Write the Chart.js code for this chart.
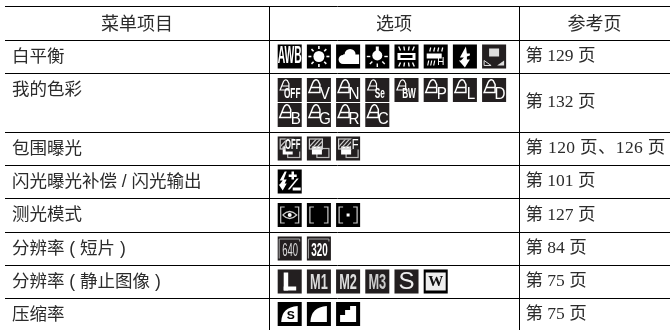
<!DOCTYPE html>
<html>
<head>
<meta charset="utf-8">
<script src="https://cdn.jsdelivr.net/npm/chart.js@4"></script>
<style>
    html, body { margin: 0; padding: 0; background: #fff; }
    #wrap { width: 670px; height: 330px; }
</style>
</head>
<body>
<div id="wrap"><canvas id="table"></canvas></div>
<script>
// table content
const headers = ['菜单项目', '选项', '参考页'];
const menuItems = ['白平衡', '我的色彩', '包围曝光', '闪光曝光补偿 / 闪光输出', '测光模式', '分辨率 ( 短片 )', '分辨率 ( 静止图像 )', '压缩率'];
const pageRefs = ['第 129 页', '第 132 页', '第 120 页、126 页', '第 101 页', '第 127 页', '第 84 页', '第 75 页', '第 75 页'];
const rowOptions = [
    ['awb', 'sun', 'cloud', 'bulb', 'tubeL', 'tubeH', 'flash', 'custom'],
    ['cOFF', 'cV', 'cN', 'cSe', 'cBW', 'cP', 'cL', 'cD', 'cB', 'cG', 'cR', 'cC'],
    ['bktOff', 'bkt', 'bktF'],
    ['flashComp'],
    ['meterEval', 'meterCenter', 'meterSpot'],
    ['mov640', 'mov320'],
    ['sizeL', 'sizeM1', 'sizeM2', 'sizeM3', 'sizeS', 'sizeW'],
    ['compS', 'compF', 'compN']
];

// table geometry, in axis units (rowEdges[0..1] is the header row)
const colEdges = [264, 514];
const rowEdges = [0, 34, 67, 126, 159, 192, 226, 259, 292];
const tableRight = 665;
const tableBottom = 324;
const slotStart = 284.7;
const slotStep = 29.2;
const slotsPerLine = 8;
const lineGap = 25;

const CJK = '"Noto Sans CJK SC"';
const inkColor = '#2b2b2b';

function rowTop(r) { return rowEdges[r + 1]; }
function rowBottom(r) { return r + 2 < rowEdges.length ? rowEdges[r + 2] : tableBottom; }

const optionPoints = [];
rowOptions.forEach((icons, r) => {
    const twoLines = icons.length > slotsPerLine;
    const mid = (rowTop(r) + rowBottom(r)) / 2;
    icons.forEach((icon, i) => {
        const line = Math.floor(i / slotsPerLine);
        const y = twoLines ? mid - lineGap / 2 + line * lineGap : mid;
        optionPoints.push({ x: slotStart + (i % slotsPerLine) * slotStep, y: y, icon: icon });
    });
});

// condensed white text inside an icon
function label(ctx, str, x, y, sx, font, color) {
    ctx.save();
    ctx.translate(x, y);
    ctx.scale(sx, 1);
    ctx.font = font;
    ctx.fillStyle = color || '#fff';
    ctx.textAlign = 'center';
    ctx.textBaseline = 'middle';
    ctx.fillText(str, 0, 0);
    ctx.restore();
}

function poly(ctx, pts, fill) {
    ctx.beginPath();
    pts.forEach((p, i) => i ? ctx.lineTo(p[0], p[1]) : ctx.moveTo(p[0], p[1]));
    ctx.closePath();
    if (fill) ctx.fill(); else ctx.stroke();
}

function rays(ctx, r0, r1, from, to, n) {
    for (let i = 0; i < n; i++) {
        const a = from + (to - from) * i / (n - 1 || 1);
        ctx.beginPath();
        ctx.moveTo(Math.cos(a) * r0, Math.sin(a) * r0);
        ctx.lineTo(Math.cos(a) * r1, Math.sin(a) * r1);
        ctx.stroke();
    }
}

function bell(ctx, dx, dy, s) {
    ctx.save();
    ctx.translate(dx, dy);
    ctx.scale(s, s);
    ctx.lineWidth = 1.5;
    ctx.beginPath();
    ctx.moveTo(-7, 5);
    ctx.lineTo(-3, -5);
    ctx.quadraticCurveTo(-1, -9, 2, -7);
    ctx.lineTo(4, -3);
    ctx.lineTo(4, 5);
    ctx.closePath();
    ctx.moveTo(-5, 0);
    ctx.lineTo(4, 0);
    ctx.stroke();
    ctx.restore();
}

function bracket(ctx, bits) {
    ctx.strokeStyle = '#bbb';
    ctx.lineWidth = 1.2;
    ctx.strokeRect(-2, 0, 12, 9);
    ctx.fillStyle = '#fff';
    ctx.fillRect(-7, -2, 10, 8);
    ctx.strokeStyle = '#ccc';
    ctx.strokeRect(-9.5, -9.5, 13, 10);
    ctx.save();
    ctx.beginPath();
    ctx.rect(-9, -9, 12, 9);
    ctx.clip();
    for (let i = -12; i < 6; i += 4) {
        ctx.beginPath();
        ctx.moveTo(i, 1);
        ctx.lineTo(i + 10, -10);
        ctx.stroke();
    }
    ctx.restore();
    if (bits) bits();
}

function meterFrame(ctx) {
    ctx.strokeStyle = '#ccc';
    ctx.lineWidth = 1.2;
    ctx.beginPath();
    ctx.moveTo(-5, -8); ctx.lineTo(-9, -8); ctx.lineTo(-9, 8); ctx.lineTo(-5, 8);
    ctx.moveTo(5, -8); ctx.lineTo(9, -8); ctx.lineTo(9, 8); ctx.lineTo(5, 8);
    ctx.stroke();
}

function movieFrame(ctx) {
    ctx.strokeStyle = '#aaa';
    ctx.lineWidth = 1;
    ctx.beginPath();
    ctx.moveTo(-10.5, 10); ctx.lineTo(-10.5, -9.5); ctx.lineTo(10, -9.5); ctx.lineTo(10, -7);
    ctx.stroke();
}

const colorLetters = { cV: 'V', cN: 'N', cP: 'P', cL: 'L', cD: 'D', cB: 'B', cG: 'G', cR: 'R', cC: 'C' };
const tightLetters = { cOFF: 'OFF', cSe: 'Se', cBW: 'BW' };

const glyphs = {
    awb: c => label(c, 'AWB', 0, 0.5, 0.45, 'bold 23px "Liberation Sans"'),
    sun: c => {
        c.beginPath(); c.arc(0, 0, 5.5, 0, 7); c.fill();
        c.lineWidth = 1.6; rays(c, 7.5, 10.5, 0, Math.PI * 1.75, 8);
    },
    cloud: c => {
        c.beginPath();
        c.arc(2, -2, 5.5, Math.PI, 0);
        c.arc(-5, 3, 4.5, Math.PI * 0.5, Math.PI * 1.5);
        c.fill();
        c.fillRect(-5, -2, 16, 9.5);
    },
    bulb: c => {
        c.fillRect(-1.5, -10, 3, 6);
        c.beginPath(); c.arc(0, -1, 5, 0, 7); c.fill();
        c.lineWidth = 1.4; rays(c, 7, 10.5, 0, Math.PI, 5);
    },
    tubeL: c => {
        c.fillRect(-9, -3.5, 18, 7);
        c.fillStyle = '#000'; c.fillRect(-6, -1.5, 12, 3);
        c.lineWidth = 1.4;
        [-6, -2, 2, 6].forEach(x => {
            c.beginPath(); c.moveTo(x, -6); c.lineTo(x * 1.3, -10); c.moveTo(x, 6); c.lineTo(x * 1.3, 10); c.stroke();
        });
    },
    tubeH: c => {
        c.fillRect(-9, -3, 15, 5);
        c.lineWidth = 1.2;
        [-7, -3, 1, 5].forEach(x => {
            c.beginPath(); c.moveTo(x + 1, -5); c.lineTo(x + 2, -9); c.stroke();
        });
        [-8, -5, -2].forEach(x => {
            c.beginPath(); c.moveTo(x + 1, 4); c.lineTo(x, 9); c.stroke();
        });
        label(c, 'H', 5, 5.5, 0.9, '11px "Liberation Sans"');
    },
    flash: c => poly(c, [[1, -10], [-5, 1], [-1, 1], [-4, 4], [-6, 4], [0, 11], [5, 3], [2, 3], [2, 0], [5, -1], [5, -3], [2, -3]], true),
    custom: c => {
        c.fillStyle = '#ddd'; c.fillRect(-5, -8, 10, 8);
        c.strokeStyle = '#ddd'; c.lineWidth = 1;
        poly(c, [[-10, 9], [-10, 4], [-3, 9]]);
        c.fillStyle = '#ddd';
        poly(c, [[10, 9], [10, 4], [3, 9]], true);
    },
    bktOff: c => bracket(c, () => {
        c.fillStyle = '#222'; c.fillRect(-4, -10, 15, 13);
        label(c, 'OFF', 3, -3, 0.55, 'bold 14px "Liberation Sans"');
    }),
    bkt: c => bracket(c),
    bktF: c => bracket(c, () => {
        c.fillStyle = '#222'; c.fillRect(3, -10, 8, 11);
        label(c, 'F', 7, -3.5, 0.8, '14px "Liberation Sans"');
    }),
    flashComp: c => {
        poly(c, [[-5, -10], [-10, -1], [-7, -1], [-10, 3], [-11, 3], [-7, 9], [-3, 2], [-5, 2], [-3, -2], [-6, -2], [-3, -10]], true);
        c.fillRect(-1, -7, 8, 2.5);
        c.fillRect(1.8, -10, 2.5, 8);
        poly(c, [[-2, 8], [7, -3], [9, -3], [0, 8]], true);
        c.fillRect(3, 6, 8, 3);
    },
    meterEval: c => {
        meterFrame(c);
        c.beginPath(); c.moveTo(-7, 0); c.quadraticCurveTo(0, -7, 7, 0); c.quadraticCurveTo(0, 7, -7, 0); c.stroke();
        c.beginPath(); c.arc(0, 0, 2, 0, 7); c.fill();
    },
    meterCenter: c => meterFrame(c),
    meterSpot: c => { meterFrame(c); c.fillRect(-1.5, -1.5, 3, 3); },
    mov640: c => {
        movieFrame(c);
        label(c, '640', 0.5, 2.5, 0.5, '19px "Liberation Sans"', '#ddd');
    },
    mov320: c => {
        movieFrame(c);
        label(c, '320', 0.5, 2.5, 0.52, 'bold 19px "Liberation Sans"');
    },
    sizeL: c => { c.fillRect(-6, -9, 4.5, 18); c.fillRect(-6, 5, 12.5, 4); },
    sizeM1: c => label(c, 'M1', 0, 1, 0.58, 'bold 22px "Liberation Sans"', '#ddd'),
    sizeM2: c => label(c, 'M2', 0, 1, 0.58, 'bold 22px "Liberation Sans"', '#ddd'),
    sizeM3: c => label(c, 'M3', 0, 1, 0.58, 'bold 22px "Liberation Sans"', '#ccc'),
    sizeS: c => label(c, 'S', 0, 1, 1, '24px "Liberation Sans"', '#eee'),
    sizeW: c => {
        c.fillStyle = '#eee'; c.fillRect(-10, -9, 20, 18);
        label(c, 'W', 0, 0.5, 1, 'bold 15px "Liberation Serif"', '#111');
    },
    compS: c => {
        c.beginPath(); c.moveTo(-8.5, 8); c.quadraticCurveTo(-8, -7, 8, -8); c.lineTo(8, 8); c.closePath(); c.fill();
        label(c, 'S', 1, 2, 1.1, 'bold 11px "Liberation Sans"', '#000');
    },
    compF: c => { c.beginPath(); c.moveTo(-8.5, 8); c.quadraticCurveTo(-8, -7, 8, -8); c.lineTo(8, 8); c.closePath(); c.fill(); },
    compN: c => poly(c, [[-8, 8], [-8, 1], [-3, 1], [-3, -4], [2, -4], [2, -8], [8, -8], [8, 8]], true)
};
Object.keys(colorLetters).forEach(k => {
    glyphs[k] = c => {
        c.strokeStyle = '#fff';
        bell(c, -3, -2.5, 1);
        label(c, colorLetters[k], 6, 5, 0.95, '16px "Liberation Sans"');
    };
});
Object.keys(tightLetters).forEach(k => {
    glyphs[k] = c => {
        c.strokeStyle = '#fff';
        bell(c, -4, -4, 0.8);
        label(c, tightLetters[k], 2.5, 4, 0.55, 'bold 15px "Liberation Sans"');
    };
});

const blackIcons = ['awb', 'sun', 'cloud', 'bulb', 'tubeL', 'tubeH', 'flash', 'flashComp', 'meterEval', 'meterCenter', 'meterSpot', 'sizeW', 'compS', 'compF', 'compN'];

// texts and icon glyphs, placed through the chart's scales and points
const tablePlugin = {
    id: 'tableText',
    afterDatasetsDraw(chart) {
        const ctx = chart.ctx;
        const x = chart.scales.x;
        const y = chart.scales.y;

        chart.getDatasetMeta(0).data.forEach((pt, i) => {
            ctx.save();
            ctx.translate(pt.x, pt.y);
            ctx.fillStyle = '#fff';
            ctx.strokeStyle = '#fff';
            glyphs[optionPoints[i].icon](ctx);
            ctx.restore();
        });

        ctx.save();
        ctx.fillStyle = inkColor;
        ctx.textBaseline = 'middle';
        ctx.textAlign = 'center';
        ctx.font = '18px ' + CJK;
        const colMids = [colEdges[0] / 2, (colEdges[0] + colEdges[1]) / 2, (colEdges[1] + tableRight) / 2];
        headers.forEach((h, i) => {
            ctx.fillText(h, x.getPixelForValue(colMids[i]), y.getPixelForValue(rowEdges[1] / 2));
        });

        ctx.textAlign = 'left';
        menuItems.forEach((item, r) => {
            ctx.font = '17.5px "Liberation Sans", ' + CJK;
            ctx.fillText(item, x.getPixelForValue(7), y.getPixelForValue(rowTop(r) + 17));
        });
        pageRefs.forEach((ref, r) => {
            ctx.font = '17.5px "Liberation Serif", ' + CJK;
            // the long two-page entry runs a little wider in the reference
            ctx.letterSpacing = ref.includes('、') ? '0.35px' : '0px';
            ctx.fillText(ref, x.getPixelForValue(colEdges[1] + 6.5), y.getPixelForValue((rowTop(r) + rowBottom(r)) / 2));
        });
        ctx.restore();
    }
};

new Chart(document.getElementById('table'), {
    type: 'scatter',
    data: {
        datasets: [{
            data: optionPoints,
            pointStyle: 'rect',
            pointRadius: 17,
            pointHoverRadius: 17,
            borderWidth: 0,
            backgroundColor: ctx => blackIcons.includes(optionPoints[ctx.dataIndex].icon) ? '#000' : '#231f20'
        }]
    },
    options: {
        responsive: true,
        maintainAspectRatio: false,
        animation: false,
        layout: { autoPadding: false, padding: { left: 5, top: 6, right: 0, bottom: 0 } },
        plugins: { legend: { display: false }, tooltip: { enabled: false } },
        scales: {
            x: {
                type: 'linear',
                min: 0,
                max: tableRight,
                afterBuildTicks: axis => { axis.ticks = colEdges.map(v => ({ value: v })); },
                ticks: { display: false },
                border: { display: false },
                grid: { color: '#000', lineWidth: 1, drawTicks: false }
            },
            y: {
                type: 'linear',
                reverse: true,
                min: 0,
                max: tableBottom,
                afterBuildTicks: axis => { axis.ticks = rowEdges.map(v => ({ value: v })); },
                ticks: { display: false },
                border: { display: false },
                grid: { color: '#000', lineWidth: 1, drawTicks: false }
            }
        }
    },
    plugins: [tablePlugin]
});
</script>
</body>
</html>
